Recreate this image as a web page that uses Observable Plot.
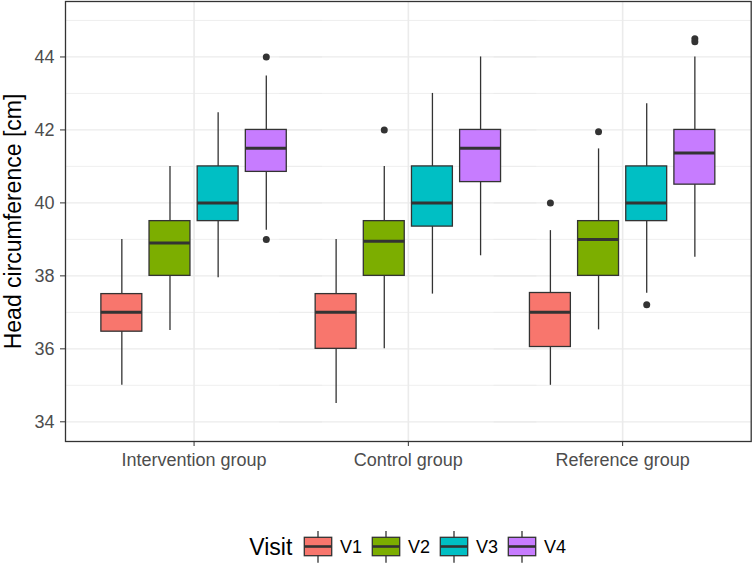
<!DOCTYPE html>
<html><head><meta charset="utf-8">
<script src="https://cdn.jsdelivr.net/npm/d3@7"></script>
<script src="https://cdn.jsdelivr.net/npm/@observablehq/plot@0.6"></script>
<style>
body{margin:0;background:#fff;font-family:"Liberation Sans",Arial,sans-serif;}
#chart svg{display:block}
</style></head><body><div id="chart"></div><script>
const groups = ["Intervention group", "Control group", "Reference group"];
const visits = ["V1", "V2", "V3", "V4"];
const visitColors = ["#F8766D", "#7CAE00", "#00BFC4", "#C77CFF"];
const whiskerLow  = [[35, 36.5, 37.95, 39.25], [34.5, 36, 37.5, 38.55], [35, 36.52, 37.52, 38.51]];
const q1          = [[36.47, 38, 39.5, 40.85], [36, 38, 39.35, 40.57], [36.05, 38, 39.5, 40.5]];
const medians     = [[37, 38.9, 40, 41.5], [37, 38.95, 40, 41.5], [37, 39, 40, 41.37]];
const q3          = [[37.5, 39.5, 41, 42], [37.5, 39.5, 41, 42], [37.53, 39.5, 41, 42]];
const whiskerHigh = [[39, 41, 42.47, 43.48], [39, 41, 43, 44], [39.24, 41.48, 42.72, 44]];
const outlierGroup = ["Intervention group", "Intervention group", "Control group", "Reference group", "Reference group", "Reference group", "Reference group", "Reference group"];
const outlierVisit = ["V4", "V4", "V2", "V1", "V2", "V3", "V4", "V4"];
const outlierValue = [44, 39, 42, 40, 41.95, 37.21, 44.5, 44.42];
const yTicks = [34, 36, 38, 40, 42, 44];
const yMinor = [35, 37, 39, 41, 43, 45];
const yTitle = "Head circumference [cm]";
const legendTitle = "Visit";

const rows = [];
groups.forEach((g, i) => visits.forEach((v, j) => rows.push({
  group: g, visit: v, lo: whiskerLow[i][j], q1: q1[i][j], med: medians[i][j], q3: q3[i][j], hi: whiskerHigh[i][j]
})));
const outliers = outlierValue.map((y, k) => ({group: outlierGroup[k], visit: outlierVisit[k], value: y}));

// panel geometry (ggplot-like discrete expansion of 0.6 on each side)
const panelLeft = 65, panelRight = 750.7;
const step = (panelRight - panelLeft) / 3.2;
const outer = 0.6 * step - step / 2;

const dark = "#333333", gridC = "#EBEBEB", textC = "#4D4D4D";
const plot = Plot.plot({
  width: 752, height: 528,
  marginLeft: panelLeft + outer, marginRight: 752 - panelRight + outer, marginTop: 1, marginBottom: 87,
  style: {fontFamily: "'Liberation Sans', Arial, sans-serif", fontSize: "18px", background: "white"},
  fx: {domain: groups, paddingInner: 0, paddingOuter: 0, round: false, axis: null, label: null},
  x: {domain: visits, paddingInner: 0.15, paddingOuter: 0.3, round: false, axis: null, label: null},
  y: {domain: [33.46, 45.52], axis: null, label: null},
  color: {domain: visits, range: visitColors},
  marks: [
    Plot.ruleY(yMinor, {stroke: gridC, strokeWidth: 0.8, insetLeft: -outer, insetRight: -outer}),
    Plot.ruleY(yTicks, {stroke: gridC, strokeWidth: 1.3, insetLeft: -outer, insetRight: -outer}),
    Plot.gridFx({stroke: gridC, strokeOpacity: 1, strokeWidth: 1.6}),
    Plot.ruleX(rows, {fx: "group", x: "visit", y1: "lo", y2: "hi", stroke: dark, strokeWidth: 1.3}),
    Plot.barY(rows, {fx: "group", x: "visit", y1: "q1", y2: "q3", fill: "visit", stroke: dark, strokeWidth: 1.3}),
    Plot.tickY(rows, {fx: "group", x: "visit", y: "med", stroke: dark, strokeWidth: 3}),
    Plot.dot(outliers, {fx: "group", x: "visit", y: "value", r: 3.5, fill: dark, stroke: null}),
    Plot.frame({facet: "super", stroke: dark, strokeWidth: 1.3, insetLeft: -outer, insetRight: -outer}),
    Plot.axisY({ticks: yTicks, tickSize: 5, tickPadding: 6, dx: -outer, label: null, fontSize: 18, fill: textC, stroke: dark}),
    Plot.axisFx({anchor: "bottom", tickSize: 5, tickPadding: 7, label: null, fontSize: 18, fill: textC, stroke: dark}),
    Plot.text([yTitle], {facet: "super", frameAnchor: "left", textAnchor: "middle", text: d => d, rotate: -90, dx: 13.3 - panelLeft - outer, fontSize: 23, fill: "black"})
  ]
});
document.getElementById("chart").appendChild(plot);

// legend with boxplot glyphs
const color = plot.scale("color");
const lg = d3.select("#chart").append("svg").attr("width", 752).attr("height", 35)
  .style("display", "block").style("font-family", "'Liberation Sans', Arial, sans-serif");
lg.append("text").attr("x", 249.3).attr("y", 27).attr("font-size", 23).attr("fill", "black").text(legendTitle);
visits.forEach((v, i) => {
  const x0 = 304.3 + 68 * i, w = 27.4, cx = x0 + w / 2;
  const g = lg.append("g");
  g.append("line").attr("x1", cx).attr("x2", cx).attr("y1", 3).attr("y2", 34.7).attr("stroke", dark).attr("stroke-width", 1.3);
  g.append("rect").attr("x", x0).attr("y", 9.3).attr("width", w).attr("height", 18.4)
    .attr("fill", color.apply(v)).attr("stroke", dark).attr("stroke-width", 1.3);
  g.append("line").attr("x1", x0).attr("x2", x0 + w).attr("y1", 18.5).attr("y2", 18.5).attr("stroke", dark).attr("stroke-width", 2.6);
  lg.append("text").attr("x", x0 + 35.7).attr("y", 25.2).attr("font-size", 18).attr("fill", "black").text(v);
});
</script></body></html>
